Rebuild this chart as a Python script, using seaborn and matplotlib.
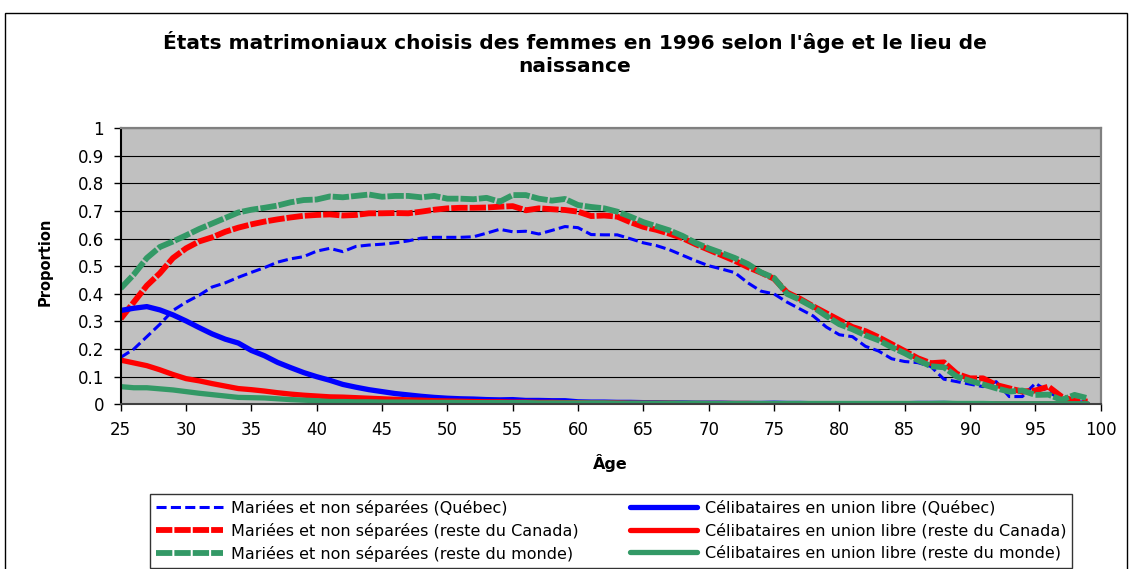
import numpy as np
import pandas as pd
import seaborn as sns
import matplotlib.pyplot as plt
from matplotlib.patches import Rectangle
from matplotlib.lines import Line2D

# ages (x axis)
ages = list(range(25, 100))

# mariées et non séparées
maries_quebec = [
    0.170, 0.200, 0.245, 0.290, 0.340, 0.370, 0.395, 0.425, 0.440, 0.460,
    0.478, 0.495, 0.515, 0.527, 0.535, 0.555, 0.565, 0.553, 0.572, 0.577,
    0.580, 0.585, 0.592, 0.602, 0.605, 0.605, 0.605, 0.607, 0.620, 0.634,
    0.625, 0.627, 0.617, 0.630, 0.644, 0.640, 0.615, 0.614, 0.614, 0.600,
    0.585, 0.575, 0.560, 0.540, 0.520, 0.502, 0.490, 0.477, 0.440, 0.410,
    0.400, 0.370, 0.345, 0.320, 0.280, 0.252, 0.245, 0.210, 0.193, 0.165,
    0.155, 0.151, 0.137, 0.091, 0.082, 0.073, 0.064, 0.082, 0.028, 0.028,
    0.076, 0.046, 0.016, 0.007, 0.010]
maries_canada = [
    0.310, 0.370, 0.430, 0.475, 0.530, 0.565, 0.590, 0.605, 0.625, 0.640,
    0.652, 0.662, 0.670, 0.677, 0.683, 0.686, 0.688, 0.684, 0.686, 0.692,
    0.692, 0.693, 0.692, 0.698, 0.705, 0.710, 0.712, 0.712, 0.713, 0.716,
    0.718, 0.703, 0.710, 0.707, 0.704, 0.698, 0.682, 0.684, 0.680, 0.660,
    0.643, 0.632, 0.618, 0.602, 0.580, 0.560, 0.540, 0.520, 0.497, 0.477,
    0.455, 0.405, 0.382, 0.355, 0.330, 0.305, 0.280, 0.265, 0.243, 0.218,
    0.193, 0.167, 0.149, 0.152, 0.110, 0.094, 0.094, 0.070, 0.058, 0.046,
    0.050, 0.064, 0.028, 0.012, 0.010]
maries_monde = [
    0.420, 0.470, 0.530, 0.570, 0.590, 0.612, 0.635, 0.655, 0.675, 0.695,
    0.705, 0.712, 0.720, 0.732, 0.740, 0.742, 0.753, 0.750, 0.755, 0.760,
    0.752, 0.755, 0.755, 0.750, 0.755, 0.745, 0.745, 0.743, 0.748, 0.734,
    0.758, 0.758, 0.745, 0.738, 0.744, 0.722, 0.715, 0.710, 0.698, 0.680,
    0.660, 0.645, 0.630, 0.610, 0.585, 0.565, 0.548, 0.530, 0.508, 0.478,
    0.458, 0.400, 0.378, 0.352, 0.320, 0.290, 0.272, 0.250, 0.232, 0.207,
    0.185, 0.160, 0.138, 0.134, 0.100, 0.085, 0.072, 0.058, 0.046, 0.050,
    0.034, 0.035, 0.016, 0.034, 0.022]

# célibataires en union libre
union_quebec = [
    0.340, 0.348, 0.354, 0.342, 0.324, 0.302, 0.278, 0.255, 0.236, 0.222,
    0.195, 0.176, 0.152, 0.133, 0.115, 0.100, 0.087, 0.072, 0.062, 0.053,
    0.046, 0.039, 0.034, 0.029, 0.025, 0.022, 0.020, 0.019, 0.017, 0.016,
    0.017, 0.014, 0.014, 0.013, 0.013, 0.009, 0.008, 0.008, 0.007, 0.007,
    0.006, 0.006, 0.005, 0.005, 0.004, 0.004, 0.004, 0.003, 0.003, 0.003,
    0.004, 0.003, 0.003, 0.002, 0.002, 0.002, 0.002, 0.002, 0.002, 0.002,
    0.002, 0.003, 0.003, 0.003, 0.002, 0.002, 0.002, 0.001, 0.001, 0.001,
    0.001, 0.001, 0.000, 0.000, 0.000]
union_canada = [
    0.160, 0.150, 0.140, 0.125, 0.108, 0.093, 0.085, 0.075, 0.066, 0.057,
    0.053, 0.048, 0.042, 0.037, 0.033, 0.030, 0.027, 0.026, 0.024, 0.022,
    0.020, 0.018, 0.016, 0.015, 0.013, 0.012, 0.011, 0.010, 0.009, 0.009,
    0.008, 0.008, 0.007, 0.007, 0.006, 0.006, 0.005, 0.005, 0.005, 0.004,
    0.004, 0.004, 0.004, 0.003, 0.003, 0.003, 0.003, 0.003, 0.003, 0.002,
    0.002, 0.002, 0.002, 0.002, 0.002, 0.002, 0.002, 0.002, 0.002, 0.002,
    0.002, 0.002, 0.002, 0.002, 0.002, 0.001, 0.001, 0.001, 0.001, 0.001,
    0.001, 0.001, 0.001, 0.000, 0.000]
union_monde = [
    0.064, 0.060, 0.060, 0.056, 0.052, 0.046, 0.040, 0.035, 0.030, 0.025,
    0.024, 0.023, 0.020, 0.017, 0.015, 0.013, 0.010, 0.010, 0.009, 0.009,
    0.008, 0.008, 0.008, 0.007, 0.007, 0.007, 0.007, 0.006, 0.006, 0.006,
    0.006, 0.006, 0.005, 0.005, 0.005, 0.005, 0.005, 0.005, 0.004, 0.004,
    0.004, 0.004, 0.004, 0.004, 0.004, 0.003, 0.003, 0.003, 0.003, 0.003,
    0.003, 0.003, 0.003, 0.003, 0.003, 0.003, 0.003, 0.003, 0.003, 0.003,
    0.003, 0.003, 0.003, 0.004, 0.003, 0.003, 0.003, 0.002, 0.002, 0.002,
    0.002, 0.002, 0.002, 0.002, 0.002]

labels = ['Mariées et non séparées (Québec)',
          'Mariées et non séparées (reste du Canada)',
          'Mariées et non séparées (reste du monde)',
          'Célibataires en union libre (Québec)',
          'Célibataires en union libre (reste du Canada)',
          'Célibataires en union libre (reste du monde)']
values = [maries_quebec, maries_canada, maries_monde,
          union_quebec, union_canada, union_monde]
colors = ['#0000FF', '#FF0000', '#339966', '#0000FF', '#FF0000', '#339966']
widths = [2.2, 4.2, 4.2, 3.8, 3.8, 3.8]
styles = [(0, (3.3, 1.4)), (0, (2.8, 0.35)), (0, (2.8, 0.35)), '-', '-', '-']

sns.set_style('white')
plt.rcParams['font.family'] = ['DejaVu Sans']
plt.rcParams['text.color'] = 'black'
plt.rcParams['axes.labelcolor'] = 'black'
plt.rcParams['xtick.color'] = 'black'
plt.rcParams['ytick.color'] = 'black'

fig = plt.figure(figsize=(11.31, 5.69), dpi=100)
ax = fig.add_axes([120.7 / 1131, 1 - 404.3 / 569, 980 / 1131, 276 / 569])
ax.set_facecolor('#C0C0C0')

for lab, vals, c, lw, ls in zip(labels, values, colors, widths, styles):
    sns.lineplot(x=ages, y=vals, color=c, linewidth=lw, linestyle=ls,
                 solid_capstyle='round', ax=ax)

ax.set_xlim(25, 100)
ax.set_ylim(0, 1)
ax.set_xticks(range(25, 101, 5))
ax.set_yticks(np.arange(0, 1.01, 0.1))
ax.set_yticklabels(['0', '0.1', '0.2', '0.3', '0.4', '0.5', '0.6', '0.7', '0.8', '0.9', '1'])
ax.yaxis.grid(True, color='black', linewidth=0.8)
ax.set_axisbelow(True)
ax.tick_params(axis='both', direction='out', length=5, width=1, colors='black',
               labelsize=12, pad=7, left=True, bottom=True)

for side in ['top', 'right']:
    ax.spines[side].set_color('#808080')
    ax.spines[side].set_linewidth(1.6)
ax.spines['left'].set_color('black')
ax.spines['left'].set_linewidth(1.5)
ax.spines['bottom'].set_color('#404040')
ax.spines['bottom'].set_linewidth(1.5)

ax.set_xlabel('Âge', fontsize=11.5, fontweight='bold', color='black')
ax.set_ylabel('Proportion', fontsize=10.5, fontweight='bold', color='black')
ax.xaxis.set_label_coords(0.5, -0.18)
ax.yaxis.set_label_coords(-0.069, 0.517)

fig.suptitle("États matrimoniaux choisis des femmes en 1996 selon l'âge et le lieu de\nnaissance",
             x=575 / 1131, y=1 - 31 / 569, va='top', fontsize=14.5, fontweight='bold',
             linespacing=1.25, color='black')

handles = [Line2D([0], [0], color=c, linewidth=lw, linestyle=ls, solid_capstyle='round')
           for c, lw, ls in zip(colors, widths, styles)]
leg = fig.legend(handles, labels, ncol=2, mode='expand', loc='upper left',
                 bbox_to_anchor=(150 / 1131, 1 - 568 / 569, 922 / 1131, 74 / 569),
                 fontsize=11.5, frameon=True, fancybox=False, edgecolor='black',
                 handlelength=4.2, handletextpad=0.5, labelspacing=0.45,
                 borderpad=0.35, borderaxespad=0, columnspacing=1.0,
                 labelcolor='black')
leg.get_frame().set_linewidth(1.0)

# outer chart border
fig.patches.append(Rectangle((5 / 1131, -0.1), 1122 / 1131, 1.1 - 13 / 569,
                             transform=fig.transFigure, fill=False,
                             edgecolor='black', linewidth=1.0))

fig.savefig('out.png', dpi=100)
